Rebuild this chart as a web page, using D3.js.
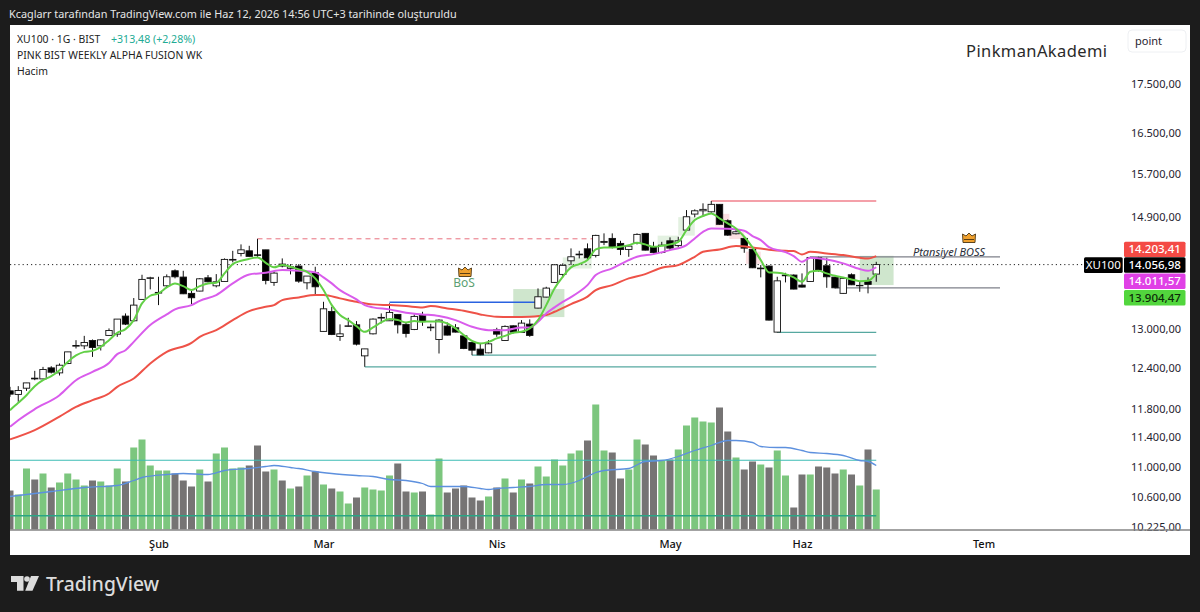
<!DOCTYPE html>
<html>
<head>
<meta charset="utf-8">
<title>XU100</title>
<script src="https://cdnjs.cloudflare.com/ajax/libs/d3/7.8.5/d3.min.js"></script>
<style>
  html, body { margin: 0; padding: 0; background: #1c1c1c; }
  svg { display: block; }
  text { font-family: "Noto Sans", sans-serif; }
</style>
</head>
<body>
<div id="chart"></div>
<script>
// candles, one entry per trading day
const opens = [12061,12009,12100,12248,12237,12402,12327,12468,12733,12738,12821,12738,12900,12920,13206,13131,13476,13824,13580,13700,13952,13846,13575,13613,13834,13700,13773,14134,14249,14294,14225,14311,13757,14066,13993,14032,13750,13918,12963,13281,12884,13042,13067,12584,12925,13174,13131,13233,13074,12994,13217,13020,12837,13047,13020,12893,12790,12687,12630,12988,12821,13051,12947,13078,13335,13514,13757,13891,14122,14225,14329,14215,14441,14511,14423,14318,14434,14600,14364,14266,14469,14388,14658,14946,15005,14987,15123,14825,14593,14511,14318,13986,14032,12952,13868,13880,13712,13773,14174,14037,13846,13575,13885,13700,13773,13896];
const highs = [12120,12130,12178,12357,12417,12427,12468,12645,12826,12893,12837,12842,13010,13158,13249,13498,13885,13851,13851,13891,13976,13952,13618,13829,13880,13896,14163,14294,14406,14381,14504,14311,13935,14163,14066,14066,13863,14020,13437,13356,13074,13179,13126,12691,13169,13249,13411,13233,13110,13233,13275,13083,13153,13105,13078,12905,12800,12784,12826,13020,13058,13058,13142,13153,13657,13684,14061,14078,14336,14294,14423,14575,14600,14600,14469,14376,14600,14600,14451,14451,14529,14540,15018,15031,15142,15185,15123,14850,14688,14529,14318,14049,14044,13851,13918,13891,13908,14191,14191,14174,13851,13841,13908,13778,13841,14105];
const lows = [11974,11902,12061,12218,12233,12318,12288,12458,12697,12687,12568,12666,12900,12878,13063,13115,13476,13641,13383,13674,13824,13563,13400,13608,13757,13674,13773,14095,14198,14191,14191,13724,13700,14010,13891,13750,13641,13563,12963,12905,12815,13036,12744,12418,12915,13090,13131,12931,12868,12983,13051,12967,12620,12900,12947,12687,12594,12594,12625,12878,12815,12931,12941,12878,13330,13509,13750,13841,14049,14163,14151,14180,14393,14336,14220,14191,14406,14301,14249,14249,14306,14353,14646,14887,14928,14969,14754,14557,14582,14260,13998,13841,13137,12947,13757,13641,13674,13767,13935,13667,13657,13568,13712,13601,13575,13767];
const closes = [12013,12067,12178,12237,12378,12337,12442,12645,12744,12790,12713,12831,12978,13158,13078,13383,13807,13834,13591,13851,13851,13568,13503,13817,13767,13767,14146,14146,14311,14198,14215,13790,13913,14032,14020,13778,13863,13684,13323,12915,12925,13051,12764,12691,13158,13185,13265,13067,12931,13201,13126,13031,13142,12905,12952,12697,12671,12599,12769,12920,13042,12952,13094,12900,13519,13662,14054,14044,14191,14237,14174,14564,14458,14353,14318,14376,14582,14306,14266,14393,14341,14469,14897,15005,15031,15123,14761,14569,14628,14341,14003,13998,13142,13783,13880,13646,13679,14180,13964,13851,13667,13824,13717,13707,13724,14057];
const volumes = [39,35,61,50,56,42,47,56,50,44,49,48,44,61,48,82,90,64,59,59,56,49,43,60,48,76,82,61,62,64,84,58,60,49,41,43,54,58,45,41,38,26,32,42,40,39,54,66,38,37,38,15,71,37,41,44,32,29,33,42,51,37,50,46,63,53,70,64,76,79,89,125,79,77,51,60,90,85,74,69,70,80,104,112,108,107,122,98,72,60,68,65,62,79,54,22,55,55,63,62,56,60,55,44,80,40];

const fastMa = [11782,11887,11998,12130,12218,12278,12367,12492,12590,12645,12660,12722,12826,12941,12999,13142,13411,13536,13575,13674,13740,13695,13629,13695,13740,13750,13908,14066,14122,14156,14180,14088,14010,14049,14020,13976,13935,13824,13629,13383,13222,13142,13047,12956,13026,13105,13158,13142,13105,13126,13115,13121,13121,13090,13010,12905,12815,12775,12800,12853,12893,12941,12956,13010,13142,13383,13657,13851,14010,14066,14134,14318,14353,14353,14364,14393,14434,14406,14364,14381,14406,14451,14658,14838,14910,14958,14869,14779,14688,14540,14353,14134,13925,13918,13896,13841,13767,13935,13952,13908,13868,13841,13807,13778,13783,13904];
const midBars = [0,1,3,6,8,10,12,13,14,15,17,19,20,22,23,25,27,29,31,33,35,37,38,39,40,42,43,44,46,48,50,52,54,56,58,60,62,63,64,65,66,67,68,69,70,71,73,75,76,78,80,82,83,84,85,87,89,90,91,92,94,95,96,97,99,101,103,104,105];
const midMa = [11546,11639,11796,11998,12218,12342,12477,12610,12671,12800,13063,13233,13314,13383,13453,13547,13740,13891,13918,13964,13952,13925,13841,13740,13629,13476,13383,13346,13314,13259,13233,13206,13142,13036,12983,12983,13026,13026,13115,13249,13346,13437,13514,13601,13712,13880,13993,14134,14191,14237,14306,14393,14511,14628,14688,14681,14646,14552,14481,14358,14272,14203,14105,14174,14146,14078,13981,13952,14011.57];
const slowBars = [0,3,6,8,10,12,13,15,17,19,22,23,25,27,29,31,32,33,35,37,38,40,42,44,46,48,50,51,53,55,57,59,61,63,65,66,68,70,71,73,75,77,79,81,83,84,86,88,90,92,94,95,96,97,99,101,103,104,105];
const slowMa = [11371,11500,11690,11829,11926,12023,12120,12243,12468,12645,12784,12878,12983,13142,13286,13356,13383,13465,13509,13547,13547,13493,13437,13395,13383,13367,13346,13367,13330,13291,13233,13195,13190,13195,13222,13275,13400,13522,13629,13712,13824,13896,14003,14049,14191,14277,14318,14376,14353,14314,14294,14289,14232,14277,14249,14220,14174,14163,14203.41];
const volMaBars = [0,5,9,13,15,16,19,21,24,26,29,31,32,34,35,37,39,42,44,46,48,50,51,53,55,57,58,59,61,63,65,67,69,70,71,72,75,77,79,81,83,85,87,88,90,91,93,94,96,97,99,101,103,104,105];
const volMa = [33,38,42,44,49,52,55,56,55,59,61,63,64,62,61,58,56,54,53,50,49,46,43,43,43,41,40,41,42,43,45,45,49,53,57,59,61,68,69,73,79,84,89,89,87,83,82,82,79,77,76,74,69,68,64];

const priceTicks = [17500,16500,15700,14900,13000,12400,11800,11400,11000,10600,10225];
const monthBars = [18,38,59,80,96,118];
const monthNames = ["Şub","Mar","Nis","May","Haz","Tem"];

// drawings: from bar, to bar, price
const redDash = [30,71,14504];
const redLine = [85,105,15185];
const blueLine = [46,64,13430];
const tealLines = [[43,105,12418],[56,105,12594],[93,105,12947]];
const grayLines = [[97,120,14191],[100,120,13667]];
// boxes: from bar, to bar, top price, bottom price
const greenBoxes = [[61,67.2,13646,13190],[103,107.1,14208,13712]];
const paleGreenBoxes = [[81,83,14890,14560],[78.5,81,14560,14340],[67,70.5,14180,13990]];
const paleRedBoxes = [[85.5,87.2,14950,14720],[87.2,89,14620,14500],[89.2,91,14280,14070]];
// right side labels, stacked from the top
const lastLabels = [
  {text:"14.203,41", fill:"#f44a45", color:"#fff"},
  {text:"14.056,98", fill:"#000", color:"#fff"},
  {text:"14.011,57", fill:"#e040e6", color:"#fff"},
  {text:"13.904,47", fill:"#52d63d", color:"#0c2a08"}
];
const lastPrice = 14056.98;

const width = 1200, height = 612;
const svg = d3.select("#chart").append("svg").attr("width", width).attr("height", height);

svg.append("rect").attr("width", width).attr("height", height).attr("fill", "#1c1c1c");
svg.append("rect").attr("x", 10).attr("y", 25).attr("width", 1180).attr("height", 530).attr("fill", "#fff");

const x = d3.scaleLinear().domain([0, 105]).range([10, 876.25]);
const y = d3.scaleLog().domain([10225, 17500]).range([527, 84]);
const yVol = d3.scaleLinear().domain([0, 140]).range([529.5, 389.5]);

const plot = svg.append("g");
const barW = 6.4;

// boxes under everything
function drawBoxes(list, fill) {
  plot.append("g").selectAll("rect").data(list).enter().append("rect")
    .attr("x", d => x(d[0]))
    .attr("width", d => x(d[1]) - x(d[0]))
    .attr("y", d => y(d[2]))
    .attr("height", d => y(d[3]) - y(d[2]))
    .attr("fill", fill);
}
drawBoxes(paleGreenBoxes, "#e3f1e1");
drawBoxes(paleRedBoxes, "#fbdfe2");
drawBoxes(greenBoxes, "#cfe6cd");

// volume
plot.append("g").selectAll("rect").data(volumes).enter().append("rect")
  .attr("x", (d, i) => x(i) - 3.5)
  .attr("width", 7)
  .attr("y", d => yVol(d))
  .attr("height", d => yVol(0) - yVol(d))
  .attr("fill", (d, i) => closes[i] >= opens[i] ? "#7cc67e" : "#767474");

// clip the first bar at the pane edge
svg.append("rect").attr("x", 0).attr("y", 25).attr("width", 10).attr("height", 530).attr("fill", "#1c1c1c");

// horizontal levels in the volume pane
[460.3, 515.7].forEach((py, i) => {
  plot.append("line").attr("x1", 10).attr("x2", x(105)).attr("y1", py).attr("y2", py)
    .attr("stroke", i === 0 ? "#3dbdb5" : "#2aa585").attr("stroke-width", i === 0 ? 1.1 : 1.6);
});

const volLine = d3.line().x((d, i) => x(volMaBars[i])).y(d => yVol(d)).curve(d3.curveMonotoneX);
plot.append("path").datum(volMa).attr("d", volLine).attr("fill", "none")
  .attr("stroke", "#5d90de").attr("stroke-width", 1.3);

// last price dotted line
plot.append("line").attr("x1", 10).attr("x2", 1084).attr("y1", y(lastPrice)).attr("y2", y(lastPrice))
  .attr("stroke", "#222").attr("stroke-width", 1).attr("stroke-dasharray", "1.2,3");

// levels
function level(d, color, w, dash) {
  plot.append("line").attr("x1", x(d[0])).attr("x2", x(d[1])).attr("y1", y(d[2])).attr("y2", y(d[2]))
    .attr("stroke", color).attr("stroke-width", w).attr("stroke-dasharray", dash || null);
}
level(redDash, "#e8707e", 1, "5,4");
level(redLine, "#f0808c", 1.5);
level(blueLine, "#2a62e0", 1.6);
tealLines.forEach(d => level(d, "#56a8a0", 1.3));
grayLines.forEach(d => level(d, "#7e808a", 1.2));

// candles
const candle = plot.append("g").selectAll("g").data(opens).enter().append("g");
candle.append("line")
  .attr("x1", (d, i) => x(i)).attr("x2", (d, i) => x(i))
  .attr("y1", (d, i) => y(highs[i])).attr("y2", (d, i) => y(lows[i]))
  .attr("stroke", "#111").attr("stroke-width", 1);
candle.append("rect")
  .attr("x", (d, i) => x(i) - barW / 2)
  .attr("width", barW)
  .attr("y", (d, i) => y(Math.max(opens[i], closes[i])))
  .attr("height", (d, i) => Math.max(0.4, y(Math.min(opens[i], closes[i])) - y(Math.max(opens[i], closes[i]))))
  .attr("fill", (d, i) => closes[i] >= opens[i] ? "#fff" : "#000")
  .attr("stroke", "#111").attr("stroke-width", 0.9);

// moving averages on top
const slow = d3.line().x((d, i) => x(slowBars[i])).y(d => y(d)).curve(d3.curveMonotoneX);
const mid = d3.line().x((d, i) => x(midBars[i])).y(d => y(d)).curve(d3.curveMonotoneX);
const fast = d3.line().x((d, i) => x(i)).y(d => y(d)).curve(d3.curveMonotoneX);
plot.append("path").datum(slowMa).attr("d", slow).attr("fill", "none").attr("stroke", "#ee5248").attr("stroke-width", 2);
plot.append("path").datum(midMa).attr("d", mid).attr("fill", "none").attr("stroke", "#d95cec").attr("stroke-width", 2);
plot.append("path").datum(fastMa).attr("d", fast).attr("fill", "none").attr("stroke", "#62d046").attr("stroke-width", 2);

// crowns and drawing labels
function crown(cx, cy) {
  const g = svg.append("g").attr("transform", `translate(${cx},${cy})`);
  g.append("path")
    .attr("d", "M-6,4.5 L-6.5,-4 L-3,-2 L0,-5 L3,-2 L6.5,-4 L6,4.5 Z")
    .attr("fill", "#f0a12e").attr("stroke", "#4a3412").attr("stroke-width", 0.9);
  g.append("path").attr("d", "M-5,1.5 H5").attr("stroke", "#4a3412").attr("stroke-width", 0.9);
}
crown(465, 272);
crown(969, 238);
svg.append("text").attr("x", 464).attr("y", 287).attr("text-anchor", "middle")
  .attr("font-size", 12).attr("fill", "#5c9f73").text("BoS");
svg.append("text").attr("x", 949).attr("y", 256).attr("text-anchor", "middle")
  .attr("font-size", 11).attr("font-style", "italic").attr("fill", "#2a2e39").text("Ptansiyel BOSS");

// axes
const fmt = d3.formatLocale({ decimal: ",", thousands: ".", grouping: [3], currency: ["", ""] }).format(",.2f");
const yAxis = svg.append("g").attr("transform", "translate(1181,0)")
  .call(d3.axisLeft(y).tickValues(priceTicks).tickFormat(fmt).tickSize(0));
yAxis.select(".domain").remove();
yAxis.selectAll("text").attr("x", 0).attr("font-size", 11).attr("fill", "#1f2330")
  .style("font-family", '"Noto Sans", sans-serif');

svg.append("line").attr("x1", 10).attr("x2", 1190).attr("y1", 530).attr("y2", 530)
  .attr("stroke", "#858585").attr("stroke-width", 1.4);

const xAxis = svg.append("g").attr("transform", "translate(0,537)")
  .call(d3.axisBottom(x).tickValues(monthBars).tickFormat((d, i) => monthNames[i]).tickSize(0));
xAxis.select(".domain").remove();
xAxis.selectAll("text").attr("font-size", 11).attr("font-weight", 500).attr("fill", "#111")
  .style("font-family", '"Noto Sans", sans-serif');

// last value labels
const lab = svg.append("g").selectAll("g").data(lastLabels).enter().append("g");
const labTop = [241.7, 257.3, 273.5, 290];
lab.append("rect").attr("x", 1124).attr("width", 61.5)
  .attr("y", (d, i) => labTop[i]).attr("height", 15.4).attr("rx", 1.5).attr("fill", d => d.fill);
lab.append("text").attr("x", 1154.7).attr("y", (d, i) => labTop[i] + 11.6).attr("text-anchor", "middle")
  .attr("font-size", 11.5).attr("font-weight", 500).attr("fill", d => d.color).text(d => d.text);
svg.append("rect").attr("x", 1084).attr("y", 257.3).attr("width", 38.7).attr("height", 15.6).attr("rx", 1.5).attr("fill", "#000");
svg.append("text").attr("x", 1103.3).attr("y", 269).attr("text-anchor", "middle")
  .attr("font-size", 11.5).attr("fill", "#fff").text("XU100");

// header and legend texts
svg.append("text").attr("x", 9).attr("y", 18).attr("font-size", 10.85).attr("fill", "#e6e6e6")
  .text("Kcaglarr tarafından TradingView.com ile Haz 12, 2026 14:56 UTC+3 tarihinde oluşturuldu");
svg.append("text").attr("x", 17).attr("y", 43).attr("font-size", 10.4).attr("fill", "#222").text("XU100 · 1G · BIST");
svg.append("text").attr("x", 111).attr("y", 43).attr("font-size", 10.6).attr("fill", "#22ab94").text("+313,48 (+2,28%)");
svg.append("text").attr("x", 17).attr("y", 59).attr("font-size", 10.4).attr("fill", "#222").text("PINK BIST WEEKLY ALPHA FUSION WK");
svg.append("text").attr("x", 17).attr("y", 75).attr("font-size", 10.4).attr("fill", "#222").text("Hacim");
svg.append("text").attr("x", 966).attr("y", 57).attr("font-size", 16.5).attr("letter-spacing", 0.4).attr("fill", "#2a2a2a").text("PinkmanAkademi");

// point button
svg.append("rect").attr("x", 1128).attr("y", 30).attr("width", 58).attr("height", 22).attr("rx", 4)
  .attr("fill", "#fff").attr("stroke", "#eef0f3");
svg.append("text").attr("x", 1135).attr("y", 45).attr("font-size", 11).attr("fill", "#1f2330").text("point");

// TradingView logo
const logo = svg.append("g").attr("fill", "#dcdcdc");
logo.append("path").attr("d", "M11,576 H23.5 V590.7 H17 V582 H11 Z");
logo.append("circle").attr("cx", 27).attr("cy", 579).attr("r", 2.8);
logo.append("path").attr("d", "M31,576 H39 L32.5,590.7 H25.2 Z");
svg.append("text").attr("x", 46).attr("y", 591).attr("font-size", 19.3).attr("font-weight", 500)
  .attr("fill", "#dcdcdc").text("TradingView");
</script>
</body>
</html>
